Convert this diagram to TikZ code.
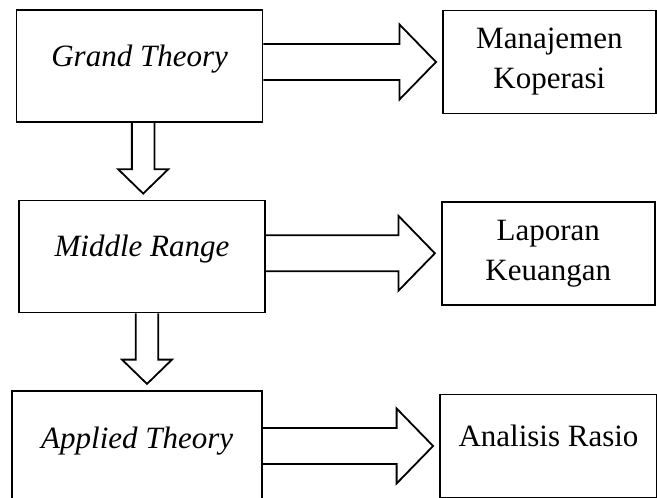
\documentclass[tikz,border=0pt]{standalone}
\usepackage{fontspec}
\setmainfont{Liberation Serif}
\usetikzlibrary{positioning, calc}
\tikzset{
    node distance=76.5pt, % Vertical gap between the theory boxes
    boxed/.style={ % Common look of every box
        draw,
        line width=1.8pt,
        font=\fontsize{31}{40}\selectfont
    },
    oneline/.style={ % Keeps the baseline on the middle of the box
        text height=22pt,
        text depth=22pt
    },
    theory/.style={ % Left column, italic
        boxed, oneline,
        font=\fontsize{31}{40}\selectfont\itshape,
        minimum width=246pt,
        minimum height=112pt
    },
    topic/.style={ % Right column
        boxed,
        align=center,
        minimum width=213pt,
        minimum height=103pt
    },
    fat arrow/.style n args={3}{ % Hollow block arrow: shaft, head, head length
        line width=1.8pt,
        to path={
            let \p1=(\tikztostart),
                \p2=($(\tikztotarget)!6pt!(\tikztostart)$),
                \p3=($(\p2)!#3!(\p1)$),
                \n1={atan2(\y2-\y1,\x2-\x1)}
            in ($(\p1)+(\n1+90:#1)$) -- ($(\p3)+(\n1+90:#1)$)
               -- ($(\p3)+(\n1+90:#2)$) -- (\p2)
               -- ($(\p3)+(\n1-90:#2)$) -- ($(\p3)+(\n1-90:#1)$)
               -- ($(\p1)+(\n1-90:#1)$)
        }
    },
    wide arrow/.style={fat arrow={18pt}{37.5pt}{36.5pt}},
    narrow arrow/.style={fat arrow={11.3pt}{25pt}{24.3pt}},
}

\begin{document}
\begin{tikzpicture}
    \node[theory]                                   (grand)   {Grand Theory};
    \node[theory, below=of grand, xshift=2.4pt]     (middle)  {Middle Range};
    \node[theory, below=of middle, xshift=-4.8pt,
          minimum width=250pt, minimum height=116pt] (applied) {Applied Theory};
    \node[topic, right=178.5pt of grand, yshift=4.2pt]  (man) {Manajemen\\Koperasi};
    \node[topic, right=175pt of middle, yshift=3.2pt]   (lap) {Laporan\\Keuangan};
    \node[topic, oneline, right=176pt of applied, yshift=2.8pt,
          minimum width=217pt]                          (ana) {Analisis Rasio};
    \coordinate (gdown) at ([xshift=3.6pt]grand.south);
    \coordinate (mdown) at ([xshift=5pt]middle.south);
    \draw[wide arrow]   (grand.east |- man.west)   to (man.west);
    \draw[wide arrow]   (middle.east |- lap.west)  to (lap.west);
    \draw[wide arrow]   (applied.east |- ana.west) to (ana.west);
    \draw[narrow arrow] (gdown) to (gdown |- middle.north);
    \draw[narrow arrow] (mdown) to (mdown |- applied.north);
    % Page size of the reference; the applied box runs off the bottom
    \pgfresetboundingbox
    \useasboundingbox ([shift={(-15.7pt,9.3pt)}]grand.north west) rectangle ++(657pt,-498pt);
\end{tikzpicture}
\end{document}
